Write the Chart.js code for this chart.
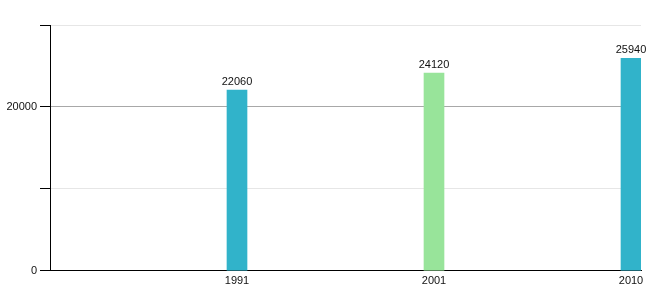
<!DOCTYPE html>
<html>
<head>
<meta charset="utf-8">
<script src="https://cdn.jsdelivr.net/npm/chart.js@4/dist/chart.umd.min.js"></script>
<style>
html,body{margin:0;padding:0;background:#fff;}
#wrap{width:660px;height:300px;position:relative;}
</style>
</head>
<body>
<div id="wrap"><canvas id="c" width="660" height="300"></canvas></div>
<script>
const years = ['1991', '2001', '2010'];
const population = [22060, 24120, 25940];
const barColors = ['#31b3ca', '#98e49a', '#31b3ca'];
const yTicks = [0, 10000, 20000, 30000];
const yLabeled = [0, 20000];

const labels = [''].concat(years);
const values = [null].concat(population);
const colors = ['rgba(0,0,0,0)'].concat(barColors);

const valueLabels = {
  id: 'valueLabels',
  afterDatasetsDraw(chart) {
    const ctx = chart.ctx;
    const meta = chart.getDatasetMeta(0);
    ctx.save();
    ctx.font = '11px "Liberation Sans", Arial, sans-serif';
    ctx.fillStyle = '#111';
    ctx.textAlign = 'center';
    ctx.textBaseline = 'bottom';
    meta.data.forEach((el, i) => {
      const v = chart.data.datasets[0].data[i];
      if (v == null) return;
      ctx.fillText(String(v), el.x, el.y - 3);
    });
    ctx.restore();
  }
};

new Chart(document.getElementById('c'), {
  type: 'bar',
  data: {
    labels: labels,
    datasets: [
      { data: values, backgroundColor: colors, barThickness: 20, borderWidth: 0 },
      { data: labels.map(() => null), backgroundColor: 'rgba(0,0,0,0)', barThickness: 20 }
    ]
  },
  options: {
    responsive: false,
    animation: false,
    devicePixelRatio: 1,
    layout: { padding: { top: 25, right: 19, bottom: 8, left: 0 } },
    plugins: { legend: { display: false }, tooltip: { enabled: false } },
    scales: {
      x: {
        offset: false,
        grid: { display: false, drawTicks: false },
        border: { display: true, color: '#000', width: 1 },
        ticks: {
          padding: 4,
          labelOffset: -10,
          maxRotation: 0,
          autoSkip: false,
          color: '#111',
          font: { family: '"Liberation Sans", Arial, sans-serif', size: 11 }
        }
      },
      y: {
        min: 0,
        max: 30000,
        afterBuildTicks(scale) { scale.ticks = yTicks.map(v => ({ value: v })); },
        afterFit(scale) { scale.width = 50; },
        grid: {
          color: ctx => (ctx.tick && ctx.tick.value === 20000) ? '#a8a8a8' : '#e6e6e6',
          tickColor: '#000',
          tickLength: 10,
          drawTicks: true
        },
        border: { display: true, color: '#000', width: 1 },
        ticks: {
          padding: 3,
          color: '#111',
          font: { family: '"Liberation Sans", Arial, sans-serif', size: 11 },
          callback: v => yLabeled.includes(v) ? String(v) : ''
        }
      }
    }
  },
  plugins: [valueLabels]
});
</script>
</body>
</html>
